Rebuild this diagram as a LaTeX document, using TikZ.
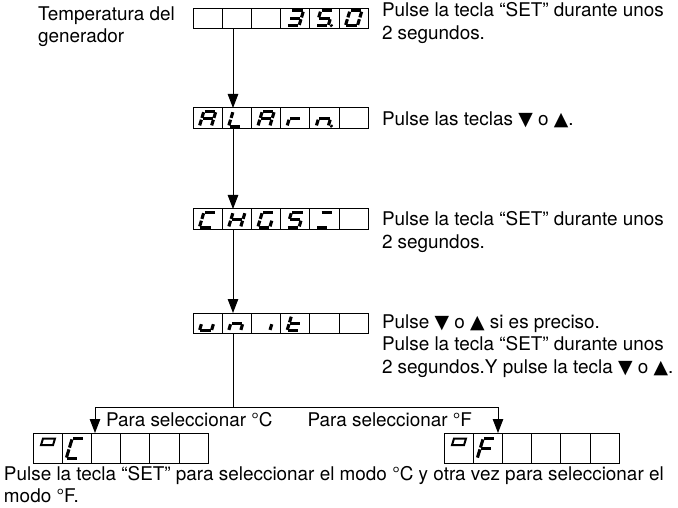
\documentclass[tikz,border=0pt]{standalone}
\usepackage{fontspec}
\setmainfont{TeX Gyre Heros}
\newfontfamily\symf{DejaVu Sans}
\usetikzlibrary{arrows.meta}
\newcommand\TriDn{{\symf ▼}}
\newcommand\TriUp{{\symf ▲}}
\def\segw{12}
\def\segh{15}
\def\segg{0.9}
\newcommand\SgA{\draw[segl] (\segg,-\segh) -- (\segw-\segg,-\segh);}
\newcommand\SgB{\draw[segl] (\segw,-\segh+\segg) -- (\segw,-\segh/2-\segg);}
\newcommand\SgC{\draw[segl] (\segw,-\segh/2+\segg) -- (\segw,-\segg);}
\newcommand\SgD{\draw[segl] (\segg,0) -- (\segw-\segg,0);}
\newcommand\SgE{\draw[segl] (0,-\segg) -- (0,-\segh/2+\segg);}
\newcommand\SgF{\draw[segl] (0,-\segh/2-\segg) -- (0,-\segh+\segg);}
\newcommand\SgG{\draw[segl] (\segg,-\segh/2) -- (\segw-\segg,-\segh/2);}
\newcommand\SgP{\fill (\segw+3.2,-0.2) circle[radius=1.7pt];}
\newcommand\SgQ{\draw[segl, line width=2pt] (0,-\segh+6.5) rectangle (\segw,-\segh);}
\newcommand\sevseg[3]{\begin{scope}[shift={(#1,#2)},xslant=0.3]\foreach \s in {#3}{\csname Sg\s\endcsname}\end{scope}}
\begin{document}
\begin{tikzpicture}[x=1pt,y=-1pt,
  disp/.style={draw, line width=1pt, inner sep=0pt, outer sep=0pt, anchor=north west, minimum width=175.2pt},
  cellline/.style={line width=0.9pt},
  segl/.style={line width=3.1pt},
  conn/.style={draw, line width=0.9pt},
  arr/.style={conn, -{Triangle[length=14pt,width=10.5pt]}},
  txt/.style={inner sep=0pt, outer sep=0pt, anchor=base west, font=\fontsize{18.9}{22.5}\selectfont}]
\useasboundingbox (0,0) rectangle (678,508);
% displays
\node[disp, minimum height=20pt] (d1) at (193,8.5) {};
\node[disp, minimum height=21pt] (d2) at (193,108) {};
\node[disp, minimum height=21pt] (d3) at (193,209) {};
\node[disp, minimum height=20.5pt] (d4) at (193,313) {};
\node[disp, minimum height=30pt] (d5) at (33,433) {};
\node[disp, minimum height=30pt] (d6) at (444,433) {};
\foreach \d in {d1,d2,d3,d4,d5,d6}{\foreach \i in {1,...,5}{\draw[cellline] ([xshift=\i*29.2pt]\d.north west) -- ([xshift=\i*29.2pt]\d.south west);}}
% glyphs
\sevseg{287}{25.8}{A,B,C,D,G}
\sevseg{316.2}{25.8}{A,F,G,C,D,P}
\sevseg{345.4}{25.8}{A,B,C,D,E,F}
\sevseg{199.4}{126.3}{A,B,C,E,F,G}
\sevseg{228.6}{126.3}{D,E,F}
\sevseg{257.8}{126.3}{A,B,C,E,F,G}
\sevseg{287}{126.3}{E,G}
\sevseg{316.2}{126.3}{C,E,G,P}
\sevseg{199.4}{227.3}{A,D,E,F}
\sevseg{228.6}{227.3}{B,C,E,F,G}
\sevseg{257.8}{227.3}{A,C,D,E,F}
\sevseg{287}{227.3}{A,C,D,F,G}
\sevseg{316.2}{227.3}{A,D}
\sevseg{199.4}{330.8}{C,D,E}
\sevseg{228.6}{330.8}{C,E,G}
\sevseg{257.8}{330.8}{C}
\sevseg{287}{330.8}{D,E,F,G}
\def\segw{12}\def\segh{20}
\sevseg{37}{458.5}{Q}
\sevseg{66.2}{458.5}{A,D,E,F}
\sevseg{448}{458.5}{Q}
\sevseg{477.2}{458.5}{A,E,F,G}
% connectors
\coordinate (ax) at (233,0);
\coordinate (jl) at (95,407);
\coordinate (jr) at (498,407);
\draw[arr] (d1.south -| ax) -- (d2.north -| ax);
\draw[arr] (d2.south -| ax) -- (d3.north -| ax);
\draw[arr] (d3.south -| ax) -- (d4.north -| ax);
\draw[arr] (d4.south -| ax) |- (jl) -- (jl |- d5.north);
\draw[arr] (ax |- jr) -- (jr) -- (jr |- d6.north);
% texts
\node[txt] (l1) at (38,21) {Temperatura del};
\node[txt] (l2) at (38,43) {generador};
\node[txt] (s1a) at (382,17) {Pulse la tecla “SET” durante unos};
\node[txt] (s1b) at (382,39.5) {2 segundos.};
\node[txt] (s2) at (382,125.5) {Pulse las teclas \TriDn{} o \TriUp.};
\node[txt] (s3a) at (382,225.5) {Pulse la tecla “SET” durante unos};
\node[txt] (s3b) at (382,248) {2 segundos.};
\node[txt] (s4a) at (382,328) {Pulse \TriDn{} o \TriUp{} si es preciso.};
\node[txt] (s4b) at (382,350.5) {Pulse la tecla “SET” durante unos};
\node[txt] (s4c) at (382,373) {2 segundos.Y pulse la tecla \TriDn{} o \TriUp.};
\node[txt] (pc) at (106,426) {Para seleccionar °C};
\node[txt, anchor=base east] (pf) at (472,426) {Para seleccionar °F};
\node[txt] (b1) at (4,480) {Pulse la tecla “SET” para seleccionar el modo °C y otra vez para seleccionar el};
\node[txt] (b2) at (4,502.5) {modo °F.};
\end{tikzpicture}
\end{document}
